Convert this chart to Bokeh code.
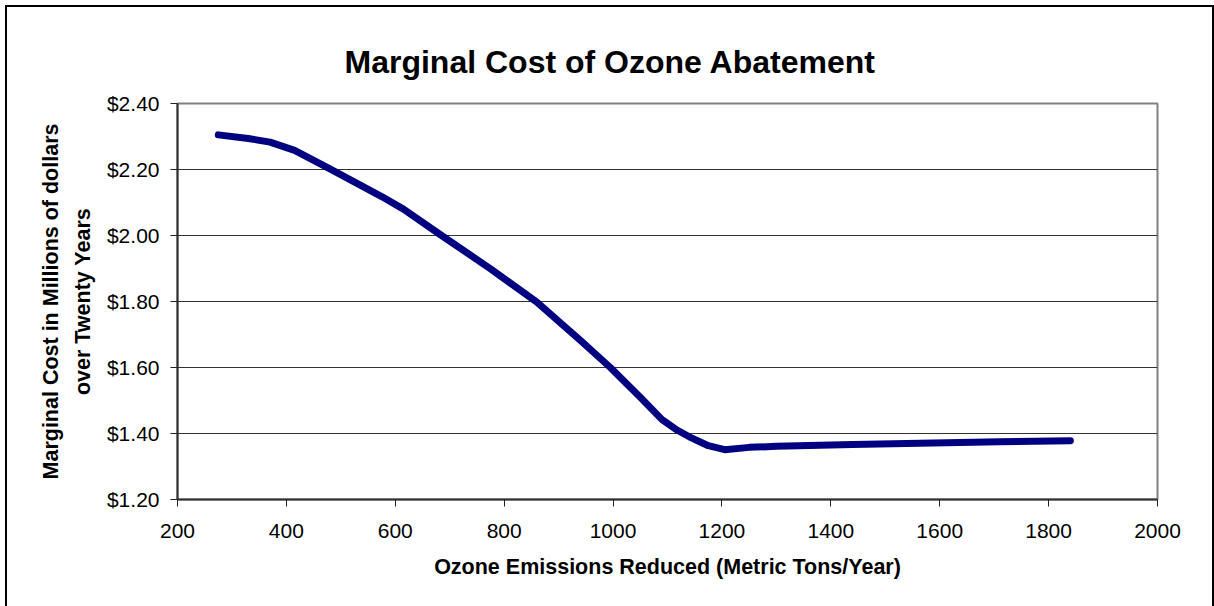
from bokeh.plotting import figure
from bokeh.models import NumeralTickFormatter, FixedTicker, Range1d, Title
from bokeh.embed import file_html
from bokeh.resources import INLINE

# Data
emissions = [275, 330, 370, 415, 480, 575, 615, 685, 775, 860, 940, 995,
             1050, 1090, 1115, 1140, 1175, 1205, 1250, 1300, 1440, 1710, 1840]
cost = [2.305, 2.294, 2.283, 2.258, 2.202, 2.118, 2.080, 2.000, 1.899, 1.798,
        1.682, 1.600, 1.510, 1.442, 1.413, 1.390, 1.363, 1.351, 1.358, 1.361,
        1.367, 1.375, 1.378]
x_ticks = [200, 400, 600, 800, 1000, 1200, 1400, 1600, 1800, 2000]
y_ticks = [1.2, 1.4, 1.6, 1.8, 2.0, 2.2, 2.4]

title_text = "Marginal Cost of Ozone Abatement"
x_label = "Ozone Emissions Reduced (Metric Tons/Year)"
y_label_1 = "Marginal Cost in Millions of dollars"
y_label_2 = "over Twenty Years"

FONT = "Liberation Sans"

p = figure(width=1205, height=599, output_backend="svg", toolbar_location=None,
           x_range=Range1d(200, 2000), y_range=Range1d(1.2, 2.4),
           min_border_left=170, min_border_right=55,
           min_border_top=96, min_border_bottom=107,
           background_fill_color="white", border_fill_color="white")

p.styles = {"margin-left": "7px", "margin-top": "7px",
            "outline": "2px solid black", "outline-offset": "0px"}

p.title.text = title_text
p.title.text_font = FONT
p.title.text_font_size = "32px"
p.title.text_font_style = "bold"
p.title.text_color = "black"
p.title.align = "left"
p.title.offset = 167
p.title.standoff = 47

p.outline_line_color = "#808080"
p.outline_line_width = 2

p.xgrid.visible = False
p.ygrid.grid_line_color = "#333333"
p.ygrid.grid_line_width = 1
p.ygrid.ticker = FixedTicker(ticks=y_ticks)

for ax in (p.xaxis[0], p.yaxis[0]):
    ax.axis_line_color = "#333333"
    ax.axis_line_width = 2
    ax.major_tick_line_color = "#222222"
    ax.major_tick_line_width = 1
    ax.major_tick_out = 7
    ax.major_tick_in = 0
    ax.minor_tick_line_color = None
    ax.major_label_text_font = FONT
    ax.major_label_text_font_size = "21px"
    ax.major_label_text_color = "black"

p.xaxis[0].ticker = FixedTicker(ticks=x_ticks)
p.xaxis[0].major_label_standoff = 17
p.xaxis[0].axis_label = x_label
p.xaxis[0].axis_label_text_font = FONT
p.xaxis[0].axis_label_text_font_size = "21.5px"
p.xaxis[0].axis_label_text_font_style = "bold"
p.xaxis[0].axis_label_text_color = "black"
p.xaxis[0].axis_label_standoff = 14

p.yaxis[0].ticker = FixedTicker(ticks=y_ticks)
p.yaxis[0].formatter = NumeralTickFormatter(format="$0.00")
p.yaxis[0].major_label_standoff = 11

p.add_layout(Title(text=y_label_2, text_font=FONT, text_font_size="21.5px",
                   text_font_style="bold", text_color="black",
                   align="center", standoff=17), "left")
p.add_layout(Title(text=y_label_1, text_font=FONT, text_font_size="21.5px",
                   text_font_style="bold", text_color="black",
                   align="center", standoff=-4), "left")

p.line(emissions, cost, line_color="#000080", line_width=7,
       line_cap="round", line_join="round")

open("out.html", "w").write(file_html(p, INLINE))
